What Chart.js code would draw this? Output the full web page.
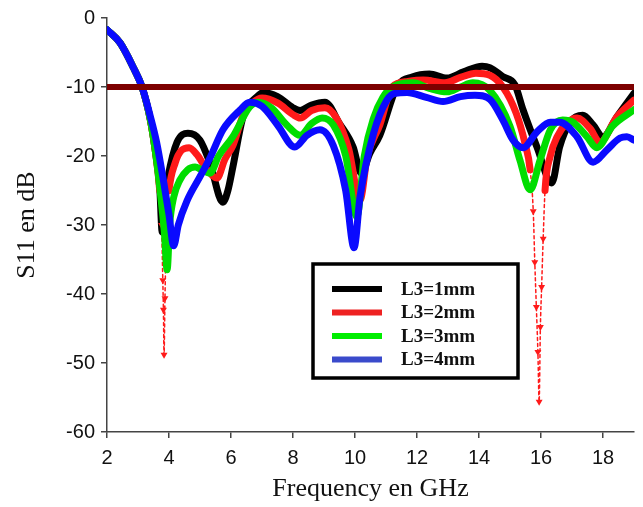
<!DOCTYPE html>
<html>
<head>
<meta charset="utf-8">
<script src="https://cdn.jsdelivr.net/npm/chart.js@4.4.0/dist/chart.umd.min.js"></script>
<style>
  html, body { margin: 0; padding: 0; background: #fff; }
</style>
</head>
<body>
<canvas id="myChart" width="643" height="507"></canvas>
<script>
// S11 curves, frequency in GHz and S11 in dB
const freq1mm = [2, 2.42, 2.84, 3.13, 3.4, 3.55, 3.7, 3.78, 3.87, 3.97, 4.26, 4.61, 5.0, 5.32, 5.74, 5.9, 6.06, 6.39, 6.84, 7.06, 7.5, 8.0, 8.23, 8.6, 9.03, 9.5, 9.94, 10.2, 10.48, 10.8, 11.35, 11.87, 12.4, 12.97, 13.5, 14.1, 14.35, 14.77, 15.16, 15.42, 15.87, 16.35, 16.6, 16.94, 17.35, 17.68, 18.0, 18.45, 19];
const s11_1mm = [-1.7, -3.6, -7.1, -10, -14.8, -19, -24.5, -31, -26, -23, -18, -16.7, -17.7, -21, -26.7, -25, -21.6, -14.3, -11.4, -10.8, -11.4, -13, -13.4, -12.6, -12.2, -15.3, -18.7, -22.5, -19.6, -17, -10, -8.5, -8.1, -8.7, -7.8, -7.0, -7.2, -8.5, -9.7, -13.3, -18.7, -23.9, -18.7, -15.1, -14.1, -15.5, -17.2, -14.3, -10.9];

const freq2mm = [2, 2.42, 2.84, 3.13, 3.4, 3.55, 3.7, 3.76, 3.8, 3.82, 3.84, 3.87, 3.9, 3.95, 4.0, 4.2, 4.4, 4.65, 4.9, 5.2, 5.55, 5.8, 6.06, 6.4, 6.7, 7.0, 7.5, 8.0, 8.23, 8.6, 9.03, 9.4, 9.8, 10.16, 10.4, 10.8, 11.2, 11.7, 12.2, 12.9, 13.4, 13.9, 14.35, 14.77, 15.2, 15.48, 15.65, 15.75, 15.8, 15.85, 15.9, 15.94, 15.98, 16.02, 16.07, 16.13, 16.3, 16.52, 16.84, 17.16, 17.58, 17.9, 18.45, 19];
const s11_2mm = [-1.7, -3.6, -7.1, -10, -14.8, -19, -25, -30, -38, -42.3, -48.8, -40.6, -34, -28, -25, -21, -19.2, -18.8, -19.8, -21.8, -23.2, -20.5, -18.5, -14, -12.3, -11.6, -12.3, -14, -14.5, -13.4, -13.0, -14.5, -19, -26.4, -20, -15.5, -10, -9.2, -9.0, -9.4, -8.6, -8.0, -8.3, -10, -13.8, -18.1, -22, -28, -35.4, -41.9, -48.4, -55.6, -44.8, -39, -32, -25, -20, -17.2, -15.2, -14.5, -16, -18, -14.3, -11.9];

const freq3mm = [2, 2.42, 2.84, 3.13, 3.4, 3.55, 3.7, 3.85, 3.94, 4.02, 4.15, 4.35, 4.6, 4.84, 5.05, 5.32, 5.6, 6.06, 6.6, 6.87, 7.3, 7.8, 8.23, 8.6, 8.94, 9.3, 9.7, 10.06, 10.3, 10.6, 10.9, 11.2, 11.87, 12.4, 12.97, 13.4, 13.8, 14.35, 15.0, 15.32, 15.65, 15.97, 16.3, 16.7, 17.03, 17.48, 17.8, 18.3, 19];
const s11_3mm = [-1.7, -3.6, -7.1, -10, -14.8, -19, -24.5, -31, -36.5, -30, -26, -23.5, -22, -21.6, -22, -22.5, -20, -17.2, -12.9, -12.2, -13, -15.5, -17, -15.3, -14.5, -15.5, -20, -28.8, -20, -14.5, -11.5, -10, -9.4, -10.2, -10.7, -10, -9.4, -10.5, -15.7, -20.6, -24.9, -20.6, -16.2, -14.8, -15.1, -17.2, -18.8, -15.7, -13.3];

const freq4mm = [2, 2.42, 2.84, 3.13, 3.4, 3.6, 3.8, 4.0, 4.15, 4.3, 4.58, 5.0, 5.32, 5.74, 6.3, 6.6, 7.0, 7.5, 8.06, 8.45, 8.87, 9.3, 9.7, 9.97, 10.16, 10.6, 11.03, 11.3, 11.68, 12.3, 12.84, 13.4, 13.87, 14.35, 14.77, 15.1, 15.42, 15.87, 16.3, 16.6, 17.16, 17.68, 18.13, 18.55, 18.77, 19];
const s11_4mm = [-1.7, -3.6, -7.1, -10, -14.3, -18, -23, -28.5, -33, -30, -26.5, -23, -20.3, -16.2, -13.3, -12.2, -12.8, -15.5, -18.7, -17, -16.2, -18.5, -25, -33.3, -26, -16.7, -11.9, -10.9, -10.8, -11.5, -12.1, -11.4, -11.2, -11.8, -14.8, -17.7, -18.8, -16.5, -15.1, -15.1, -17.2, -20.9, -19.1, -17.4, -17.2, -17.7];

// -10 dB reference line
const limitFreq = [2, 19];
const limitDb = [-10, -10];

// axis ticks
const xTickValues = [2, 4, 6, 8, 10, 12, 14, 16, 18];

const seriesLabels = ['L3=1mm', 'L3=2mm', 'L3=3mm', 'L3=4mm'];
const seriesColors = ['#000000', '#ff1a1a', '#00dd00', '#0a0aff'];
const legendColors = ['#000000', '#ee2222', '#00ee00', '#3a4acb'];

function toPoints(xs, ys) {
    let pts = [];
    for (let i = 0; i < xs.length; i++) {
        pts.push({ x: xs[i], y: ys[i] });
    }
    return pts;
}

function makeSeries(idx, xs, ys, order) {
    return {
        label: seriesLabels[idx],
        data: toPoints(xs, ys),
        borderColor: seriesColors[idx],
        backgroundColor: seriesColors[idx],
        borderWidth: 7,
        borderCapStyle: 'round',
        borderJoinStyle: 'round',
        pointRadius: 0,
        cubicInterpolationMode: 'monotone',
        fill: false,
        order: order
    };
}

let redSeries = makeSeries(1, freq2mm, s11_2mm, 3);
// very deep parts of the red curve are sparse markers on a thin line
const isDeep = c => Math.min(c.p0.parsed.y, c.p1.parsed.y) < -26.5;
redSeries.segment = {
    borderWidth: c => isDeep(c) ? 1.5 : undefined,
    borderDash: c => isDeep(c) ? [3, 3] : undefined
};
redSeries.pointRadius = c => (c.raw && c.raw.y < -26.5) ? 4 : 0;
redSeries.pointStyle = 'triangle';
redSeries.rotation = 180;
redSeries.pointBorderWidth = 0;

const datasets = [
    {
        label: 'limit',
        data: toPoints(limitFreq, limitDb),
        borderColor: '#7d0000',
        borderWidth: 6,
        pointRadius: 0,
        order: 0
    },
    makeSeries(3, freq4mm, s11_4mm, 1),
    makeSeries(2, freq3mm, s11_3mm, 2),
    redSeries,
    makeSeries(0, freq1mm, s11_1mm, 4)
];

// legend box drawn inside the plot
const legendBox = {
    id: 'legendBox',
    afterDraw(chart) {
        const ctx = chart.ctx;
        ctx.save();
        ctx.fillStyle = '#fff';
        ctx.fillRect(313, 264, 205, 114);
        ctx.lineWidth = 3.5;
        ctx.strokeStyle = '#000';
        ctx.strokeRect(313, 264, 205, 114);
        ctx.font = 'bold 19px "Liberation Serif", "Times New Roman", serif';
        ctx.textBaseline = 'middle';
        for (let i = 0; i < seriesLabels.length; i++) {
            let y = 289 + i * 23.5;
            ctx.strokeStyle = legendColors[i];
            ctx.lineWidth = 6;
            ctx.beginPath();
            ctx.moveTo(332, y);
            ctx.lineTo(382, y);
            ctx.stroke();
            ctx.fillStyle = '#111';
            ctx.fillText(seriesLabels[i], 401, y + 1);
        }
        ctx.restore();
    }
};

const tickFont = { family: '"Liberation Sans", Arial, sans-serif', size: 20 };
const titleFont = { family: '"Liberation Serif", "Times New Roman", serif', size: 26 };

var config = {
    type: 'line',
    data: { datasets: datasets },
    options: {
        responsive: false,
        animation: false,
        layout: { padding: { left: 0, right: 9, top: 18, bottom: 0 } },
        plugins: {
            legend: { display: false },
            tooltip: { enabled: false }
        },
        scales: {
            x: {
                type: 'linear',
                min: 2,
                max: 19,
                afterFit: s => { s.height = 75; },
                afterBuildTicks: s => {
                    s.ticks = xTickValues.map(v => ({ value: v }));
                },
                ticks: { color: '#111', font: tickFont, padding: 8, maxRotation: 0, autoSkip: false },
                grid: { drawOnChartArea: false, drawTicks: true, tickLength: 6, color: '#444', lineWidth: 1.5 },
                border: { color: '#444', width: 1.5 },
                title: { display: true, text: 'Frequency en GHz', color: '#111', font: titleFont, padding: { top: 0, bottom: 2 } }
            },
            y: {
                min: -60,
                max: 0,
                afterFit: s => { s.width = 107; },
                ticks: { stepSize: 10, color: '#111', font: tickFont, padding: 6 },
                grid: { drawOnChartArea: false, drawTicks: true, tickLength: 6, color: '#444', lineWidth: 1.5 },
                border: { color: '#444', width: 1.5 },
                title: { display: true, text: 'S11 en dB', color: '#111', font: titleFont, padding: { top: 12, bottom: 0 } }
            }
        }
    },
    plugins: [legendBox]
};

var myChart = new Chart(document.getElementById('myChart'), config);
</script>
</body>
</html>
